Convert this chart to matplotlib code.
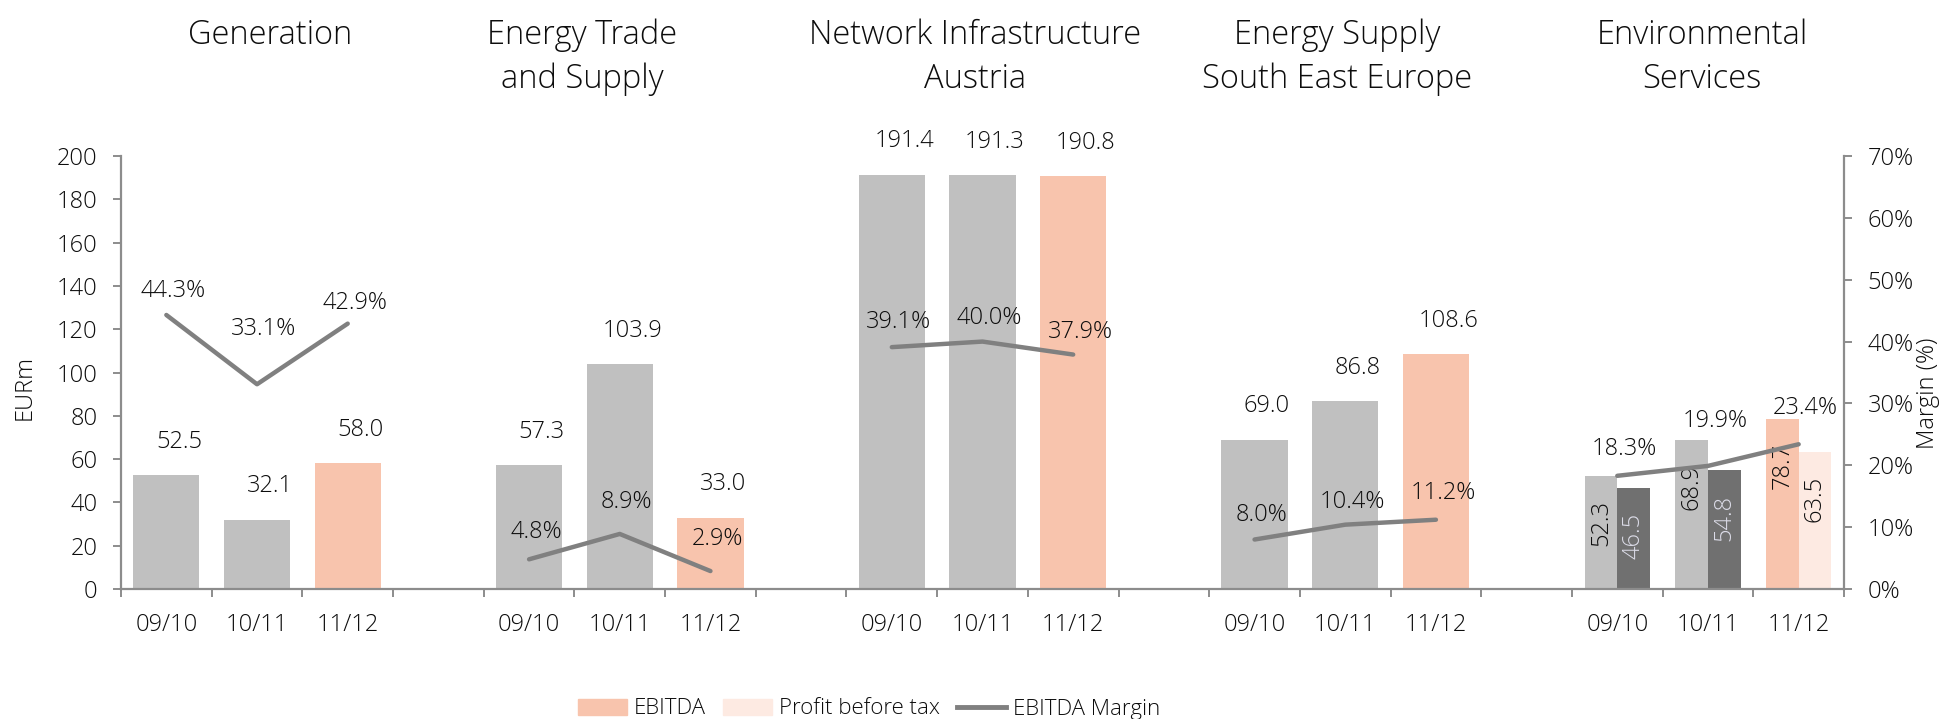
import matplotlib.pyplot as plt
from matplotlib.patches import Patch
from matplotlib.lines import Line2D

plt.rcParams['font.family'] = ['Open Sans', 'DejaVu Sans']
plt.rcParams['font.weight'] = 'light'

# data
segments = ['Generation', 'Energy Trade\nand Supply', 'Network Infrastructure\nAustria',
            'Energy Supply\nSouth East Europe', 'Environmental\nServices']
years = ['09/10', '10/11', '11/12']
ebitda = [
    [52.5, 32.1, 58.0],
    [57.3, 103.9, 33.0],
    [191.4, 191.3, 190.8],
    [69.0, 86.8, 108.6],
    [52.3, 68.9, 78.7],
]
pbt_env = [46.5, 54.8, 63.5]
margin = [
    [44.3, 33.1, 42.9],
    [4.8, 8.9, 2.9],
    [39.1, 40.0, 37.9],
    [8.0, 10.4, 11.2],
    [18.3, 19.9, 23.4],
]

# colours
GREY = '#c0c0c0'
DARK = '#707070'
SALMON = '#f8c4ad'
PINK = '#fdeae2'
LINE = '#808080'
AX = '#8c8c8c'
TXT = '#0d0d0d'

# label offsets for margin labels (points above the line)
margin_dy = [[17, 40, 15], [20, 23, 23], [18, 17, 16], [18, 16, 19], [19, 32, 26]]

fig = plt.figure(figsize=(19.41, 7.19), dpi=100)
ax = fig.add_axes([121 / 1941, 1 - 589 / 719, (1844 - 121) / 1941, (589 - 156) / 719])
ax2 = ax.twinx()

n_slots = 4 * len(segments) - 1
centers, labels = [], []
for g, seg in enumerate(segments):
    xs = [g * 4 + i + 0.5 for i in range(3)]
    centers += xs
    labels += years
    env = (g == len(segments) - 1)
    for i, x in enumerate(xs):
        col = SALMON if i == 2 else GREY
        if env:
            w = 0.36
            ax.bar(x - w / 2, ebitda[g][i], w, color=col)
            ax.bar(x + w / 2, pbt_env[i], w, color=PINK if i == 2 else DARK)
            ax.annotate(f'{ebitda[g][i]:.1f}', (x - w / 2, ebitda[g][i]), xytext=(0, -34),
                        textcoords='offset points', rotation=90, ha='center', va='center',
                        fontsize=17, color=TXT)
            ax.annotate(f'{pbt_env[i]:.1f}', (x + w / 2, pbt_env[i]), xytext=(0, -34),
                        textcoords='offset points', rotation=90, ha='center', va='center',
                        fontsize=17, color=TXT if i == 2 else '#dcdce8')
        else:
            ax.bar(x, ebitda[g][i], 0.73, color=col)
            ax.annotate(f'{ebitda[g][i]:.1f}', (x, ebitda[g][i]), xytext=(9, 24),
                        textcoords='offset points', ha='center', va='center',
                        fontsize=17, color=TXT)
    ax2.plot(xs, margin[g], color=LINE, lw=3.2, solid_capstyle='round')
    for i, x in enumerate(xs):
        ax2.annotate(f'{margin[g][i]:.1f}%', (x, margin[g][i]), xytext=(5, margin_dy[g][i]),
                     textcoords='offset points', ha='center', va='center',
                     fontsize=17, color=TXT)

ax.set_xlim(0, n_slots)
ax.set_ylim(0, 200)
ax.set_yticks(range(0, 201, 20))
ax2.set_ylim(0, 70)
ax2.set_yticks(range(0, 71, 10))
ax2.set_yticklabels([f'{v}%' for v in range(0, 71, 10)])

ax.set_xticks(range(n_slots + 1))
ax.set_xticklabels([])
ax.set_xticks(centers, minor=True)
ax.set_xticklabels(labels, minor=True)
ax.tick_params(axis='x', which='major', length=6, width=1.4, color=AX)
ax.tick_params(axis='x', which='minor', length=0, pad=17, labelsize=17, labelcolor=TXT)
ax.tick_params(axis='y', length=6, width=1.4, color=AX, pad=11, labelsize=17, labelcolor=TXT)
ax2.tick_params(axis='y', length=6, width=1.4, color=AX, pad=11, labelsize=17, labelcolor=TXT)

for a in (ax, ax2):
    a.spines['top'].set_visible(False)
    for s in ('left', 'right', 'bottom'):
        a.spines[s].set_color(AX)
        a.spines[s].set_linewidth(1.6)
ax.spines['right'].set_visible(False)
ax2.spines['left'].set_visible(False)
ax2.spines['bottom'].set_visible(False)

fig.text(25 / 1941, 1 - 387 / 719, 'EURm', rotation=90, ha='center', va='center',
         fontsize=17, color=TXT)
fig.text(1928 / 1941, 1 - 393 / 719, 'Margin (%)', rotation=90, ha='center', va='center',
         fontsize=17, color=TXT)

title_x = [270, 582, 975, 1337, 1702]
for tx, seg in zip(title_x, segments):
    fig.text(tx / 1941, 1 - 19 / 719, seg, ha='center', va='top', fontsize=23.5,
             linespacing=1.4, color=TXT)

handles = [Patch(color=SALMON), Patch(color=PINK), Line2D([], [], color=LINE, lw=3.5)]
fig.legend(handles, ['EBITDA', 'Profit before tax', 'EBITDA Margin'], loc='center',
           bbox_to_anchor=(869 / 1941, 1 - 709 / 719), ncol=3, frameon=False,
           fontsize=16, handlelength=2.2, handletextpad=0.3, columnspacing=0.8,
           labelcolor=TXT)

fig.savefig('out.png', dpi=100)
